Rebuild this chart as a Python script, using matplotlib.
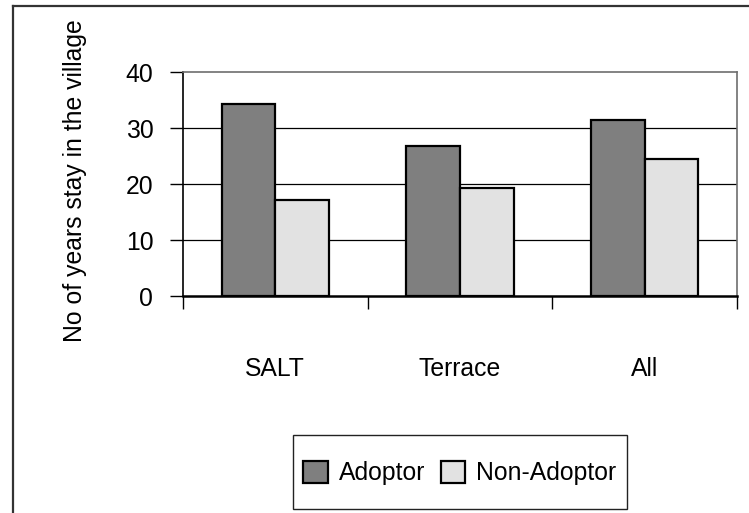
import matplotlib
matplotlib.use("Agg")
import matplotlib.pyplot as plt
from matplotlib.lines import Line2D
from matplotlib.patches import Rectangle, Patch
import numpy as np

categories = ["SALT", "Terrace", "All"]
adoptor = [34.2, 26.8, 31.4]
non_adoptor = [17.1, 19.2, 24.5]
series_names = ["Adoptor", "Non-Adoptor"]
y_ticks = [0, 10, 20, 30, 40]
y_label = "No of years stay in the village"

plt.rcParams['font.family'] = ['Liberation Sans', 'DejaVu Sans']
FS = 17.8

W, H = 749, 513
fig = plt.figure(figsize=(W / 100, H / 100), dpi=100)
fig.patch.set_facecolor("white")

# axes placement (pixels)
L, R, T, B = 183, 737, 72, 296
ax = fig.add_axes([L / W, 1 - B / H, (R - L) / W, (B - T) / H])

x = np.arange(len(categories))
bw = 0.29
c_adopt = "#7f7f7f"
c_non = "#e2e2e2"
ax.bar(x - bw / 2, adoptor, width=bw, color=c_adopt, edgecolor="black",
       linewidth=1.6, zorder=3)
ax.bar(x + bw / 2, non_adoptor, width=bw, color=c_non, edgecolor="black",
       linewidth=1.6, zorder=3)

ax.set_xlim(-0.5, len(categories) - 0.5)
ax.set_ylim(0, 40)
ax.set_yticks(y_ticks)
ax.set_yticklabels([str(t) for t in y_ticks], fontsize=FS)
ax.tick_params(axis="y", direction="out", length=9.4, width=1.0, pad=12)

ax.set_xticks(x)
ax.set_xticklabels(categories, fontsize=FS)
ax.tick_params(axis="x", which="major", length=0, pad=44)
ax.set_xticks(np.arange(len(categories) + 1) - 0.5, minor=True)
ax.tick_params(axis="x", which="minor", direction="out", length=9.4, width=1.0)

for v in y_ticks[1:-1]:
    ax.axhline(v, color="black", linewidth=0.9, zorder=1)

ax.spines["left"].set_color("black")
ax.spines["left"].set_linewidth(1.2)
ax.spines["bottom"].set_color("black")
ax.spines["bottom"].set_linewidth(1.8)
ax.spines["bottom"].set_zorder(4)
ax.spines["top"].set_color("#6e6e6e")
ax.spines["top"].set_linewidth(1.2)
ax.spines["right"].set_color("#6e6e6e")
ax.spines["right"].set_linewidth(1.2)

fig.text(75 / W, 1 - 181 / H, y_label, rotation=90, ha="center", va="center",
         fontsize=FS)

# outer chart border (right and bottom edges outside the frame)
fig.add_artist(Line2D([12.5 / W, 1.01], [1 - 6 / H, 1 - 6 / H],
                      transform=fig.transFigure, color="#333333", linewidth=1.6))
fig.add_artist(Line2D([12.5 / W, 12.5 / W], [-0.01, 1 - 6 / H],
                      transform=fig.transFigure, color="#333333", linewidth=1.6))

# legend box
fig.add_artist(Rectangle((293 / W, 1 - 509 / H), (627 - 293) / W, (509 - 435) / H,
                         transform=fig.transFigure, facecolor="white",
                         edgecolor="#222222", linewidth=1.0, zorder=5))
handles = [Patch(facecolor=c_adopt, edgecolor="black", linewidth=1.6),
           Patch(facecolor=c_non, edgecolor="black", linewidth=1.6)]
leg = fig.legend(handles, series_names, loc="center",
                 bbox_to_anchor=(460 / W, 1 - 473 / H), ncol=2, frameon=False,
                 fontsize=FS, handlelength=1.0, handleheight=1.0,
                 handletextpad=0.45, columnspacing=0.6, borderpad=0.2)
leg.set_zorder(6)

fig.savefig("out.png", dpi=100, facecolor="white")
